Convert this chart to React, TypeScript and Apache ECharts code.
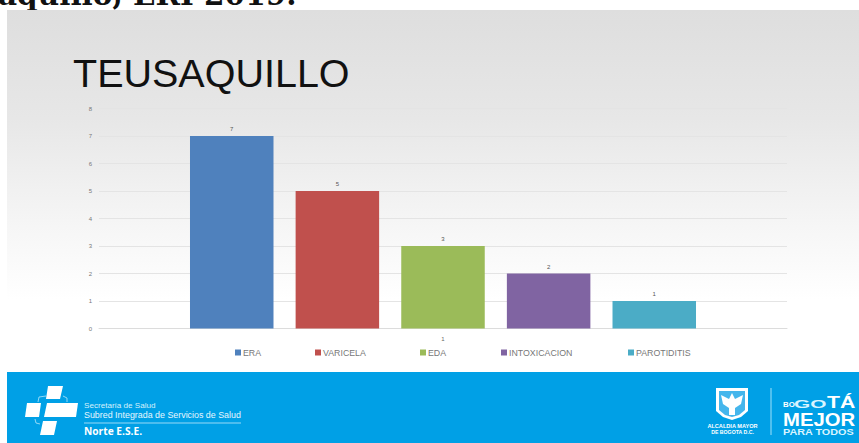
import React, { useEffect, useRef } from "react";
import * as echarts from "echarts";

const categories = ["1"];
const seriesNames = ["ERA", "VARICELA", "EDA", "INTOXICACION", "PAROTIDITIS"];
const seriesValues = [7, 5, 3, 2, 1];
const seriesColors = ["#4f81bd", "#c0504d", "#9bbb59", "#8064a2", "#4bacc6"];
const legendLefts = [235, 315, 420, 501, 628];
const BLUE = "#00a0e6";

function poly(points: number[][], fill = "#fff") {
  return { type: "polygon", shape: { points }, style: { fill } };
}
function txt(x: number, y: number, text: string, font: string, fill = "#fff", align = "left", scaleX = 1) {
  return {
    type: "text",
    x,
    y,
    scaleX,
    style: { text, font, fill, align, verticalAlign: "middle" },
  };
}

export default function App() {
  const ref = useRef<HTMLDivElement>(null);
  useEffect(() => {
    document.body.style.margin = "0";
    document.body.style.background = "#fff";
    const chart = echarts.init(ref.current!, null, { renderer: "svg" });
    const sans = "Liberation Sans";
    chart.setOption({
      animation: false,
      backgroundColor: "transparent",
      title: {
        text: "TEUSAQUILLO",
        left: 73,
        top: 53,
        padding: 0,
        textStyle: { fontFamily: sans, fontSize: 39.5, fontWeight: "normal", color: "#111" },
      },
      grid: { left: 99, right: 72, top: 108.5, height: 220 },
      legend: seriesNames.map((name, i) => ({
        data: [name],
        left: legendLefts[i],
        top: 348,
        padding: 0,
        icon: "rect",
        itemWidth: 6,
        itemHeight: 6,
        itemGap: 0,
        selectedMode: false,
        textStyle: { fontFamily: sans, fontSize: 8.8, color: "#777", padding: [0, 0, 0, -3] },
      })),
      xAxis: {
        type: "category",
        data: categories,
        axisLine: { lineStyle: { color: "#dcdcdc", width: 1 } },
        axisTick: { show: false },
        axisLabel: { fontFamily: sans, fontSize: 6, color: "#666", margin: 7 },
      },
      yAxis: {
        type: "value",
        min: 0,
        max: 8,
        interval: 1,
        axisLine: { show: false },
        axisTick: { show: false },
        splitLine: { lineStyle: { color: "#e4e4e4", width: 1 } },
        axisLabel: { fontFamily: sans, fontSize: 6, color: "#777", margin: 7 },
      },
      series: seriesNames.map((name, i) => ({
        name,
        type: "bar",
        data: [seriesValues[i]],
        barWidth: 83.5,
        barGap: "26.5%",
        itemStyle: { color: seriesColors[i] },
        label: {
          show: true,
          position: "top",
          distance: 4,
          fontFamily: sans,
          fontSize: 6,
          color: "#555",
        },
      })),
      graphic: [
        {
          type: "group",
          silent: true,
          z: -10,
          children: [
            txt(-2, -6, "aquillo, ERI 2019.", "bold 29.5px 'DejaVu Serif'", "#111"),
            {
              type: "rect",
              shape: { x: 7, y: 10, width: 852, height: 362 },
              style: {
                fill: new echarts.graphic.LinearGradient(0, 0, 0, 1, [
                  { offset: 0, color: "#dedede" },
                  { offset: 0.3, color: "#e7e7e7" },
                  { offset: 0.6, color: "#f6f6f6" },
                  { offset: 0.8, color: "#ffffff" },
                  { offset: 1, color: "#ffffff" },
                ]),
              },
            },
            { type: "rect", shape: { x: 7, y: 372, width: 852, height: 71 }, style: { fill: BLUE } },
          ],
        },
        {
          type: "group",
          silent: true,
          z: 10,
          children: [
            poly([[48, 386], [63, 386], [60, 399], [46, 399]]),
            poly([[27, 403], [41, 403], [39, 417], [25, 417]]),
            poly([[47, 403], [78, 403], [76, 417], [44, 417]]),
            poly([[43, 421], [57, 421], [54, 435], [40, 435]]),
            { type: "polyline", shape: { points: [[46, 396], [39, 397], [38, 402]] }, style: { stroke: "#cfeffc", fill: "none", lineWidth: 0.7 } },
            { type: "polyline", shape: { points: [[63, 396], [67, 398], [67, 402]] }, style: { stroke: "#cfeffc", fill: "none", lineWidth: 0.7 } },
            { type: "polyline", shape: { points: [[35, 419], [36, 423], [40, 424]] }, style: { stroke: "#cfeffc", fill: "none", lineWidth: 0.7 } },
            txt(84, 405, "Secretaría de Salud", `8.1px '${sans}'`, "#d5f1fc"),
            txt(84, 415, "Subred Integrada de Servicios de Salud", `8.9px '${sans}'`, "#e6f7fe"),
            { type: "line", shape: { x1: 84, y1: 423, x2: 241, y2: 423 }, style: { stroke: "#bfeafb", lineWidth: 0.8 } },
            txt(84, 431, "Norte E.S.E.", `bold 10.2px 'Open Sans'`),
            poly([[716, 388], [748, 388], [748, 411], [741, 417], [732, 420], [723, 417], [716, 411]]),
            poly([[719, 391], [745, 391], [745, 410], [739, 415], [732, 417], [725, 415], [719, 410]], "#45b6ec"),
            poly([[732, 393], [735, 399], [743, 395], [741, 404], [735, 408], [735, 415], [729, 415], [729, 408], [723, 404], [721, 395], [729, 399]]),
            txt(732.5, 426, "ALCALDIA MAYOR", `bold 5.6px '${sans}'`, "#fff", "center"),
            txt(732.5, 432, "DE BOGOTA D.C.", `bold 5.2px '${sans}'`, "#fff", "center"),
            { type: "line", shape: { x1: 771, y1: 388, x2: 771, y2: 435 }, style: { stroke: "#9fe0f8", lineWidth: 1 } },
            txt(783, 405, "BO", `bold 7.5px '${sans}'`, "#fff", "left", 1.05),
            txt(794, 404, "GO", `bold 11px '${sans}'`, "#d8f4ff", "left", 1.9),
            txt(827, 402, "TÁ", `bold 17px '${sans}'`, "#fff", "left", 1.25),
            txt(783, 419.5, "MEJOR", `bold 19px '${sans}'`, "#fff", "left", 1.07),
            txt(783, 431.5, "PARA TODOS", `bold 9.5px '${sans}'`, "#d8f4ff", "left", 1.14),
          ],
        },
      ],
    });
    return () => chart.dispose();
  }, []);
  return <div ref={ref} style={{ width: 859, height: 443 }} />;
}
